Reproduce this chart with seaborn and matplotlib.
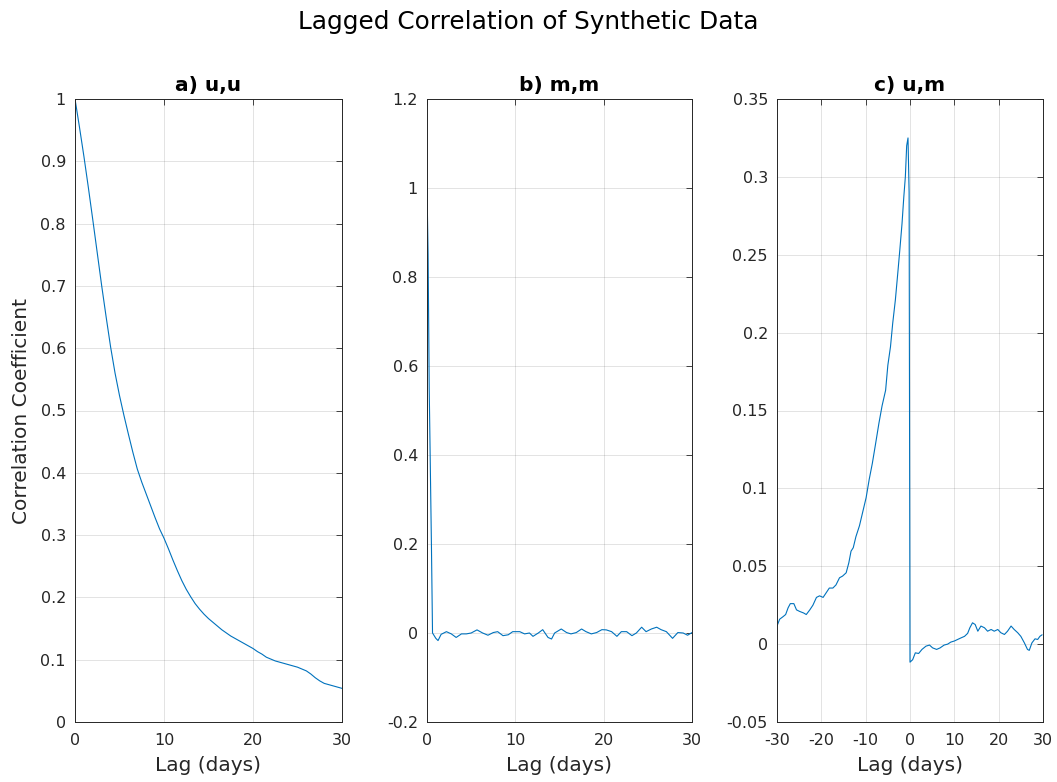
import numpy as np
import pandas as pd
import matplotlib
matplotlib.use("Agg")
import matplotlib.pyplot as plt
import seaborn as sns
from matplotlib.ticker import FixedLocator, FixedFormatter

# ---------------- data ----------------
lag_a = [0, 0.5, 1, 1.5, 2, 2.5, 3, 3.5, 4, 4.5, 5, 5.5, 6, 6.5, 7, 7.5, 8, 8.5, 9, 9.5,
         10, 10.5, 11, 11.5, 12, 12.5, 13, 13.5, 14, 14.5, 15, 15.5, 16, 16.5, 17, 17.5,
         18, 18.5, 19, 19.5, 20, 20.5, 21, 21.5, 22, 22.5, 23, 23.5, 24, 24.5, 25, 25.5,
         26, 26.5, 27, 27.5, 28, 28.5, 29, 29.5, 30]
corr_uu = [1.0, 0.955, 0.908, 0.858, 0.806, 0.753, 0.70, 0.65, 0.602, 0.56, 0.524, 0.492,
           0.462, 0.433, 0.406, 0.385, 0.366, 0.347, 0.328, 0.31, 0.295, 0.278, 0.26,
           0.243, 0.227, 0.213, 0.201, 0.19, 0.181, 0.173, 0.166, 0.16, 0.154, 0.148, 0.143,
           0.138, 0.134, 0.13, 0.126, 0.122, 0.118, 0.113, 0.109, 0.104, 0.101, 0.098,
           0.096, 0.094, 0.092, 0.09, 0.088, 0.085, 0.082, 0.077, 0.071, 0.066, 0.062,
           0.060, 0.058, 0.056, 0.054]

lag_b = [0, 0.125, 0.25, 0.5, 0.625, 0.75, 1.0, 1.25, 1.6, 2.2, 2.75, 3.3, 3.9, 4.45, 5.0,
         5.66, 6.3, 6.9, 7.5, 8.0, 8.6, 9.2, 9.7, 10.5, 11.05, 11.6, 12.0, 12.6, 13.1, 13.7,
         14.1, 14.45, 15.2, 15.8, 16.3, 16.9, 17.5, 18.0, 18.6, 19.2, 19.8, 20.3, 20.9,
         21.5, 22.0, 22.6, 23.2, 23.7, 24.3, 24.8, 25.4, 26.0, 26.5, 27.1, 27.8, 28.4,
         29.0, 29.5, 30.0]
corr_mm = [1.0, 0.85, 0.55, 0.2, 0.0, -0.004, -0.012, -0.017, -0.003, 0.003, -0.002, -0.010,
           -0.002, -0.002, 0.0, 0.007, 0.0, -0.005, 0.001, 0.003, -0.006, -0.004, 0.003,
           0.003, -0.002, 0.0, -0.0075, 0.0, 0.0075, -0.010, -0.0135, 0.0, 0.009, 0.001,
           -0.002, 0.001, 0.009, 0.003, -0.002, 0.001, 0.0075, 0.007, 0.003, -0.0075,
           0.003, 0.003, -0.006, 0.0, 0.013, 0.003, 0.009, 0.013, 0.0075, 0.003, -0.012,
           0.001, 0.0, -0.005, 0.001]

lag_c = [-30, -29.4, -28.65, -28.05, -27.5, -27.0, -26.2, -25.6, -24.9, -24.0, -23.4,
         -22.6, -21.9, -21.1, -20.4, -19.6, -18.9, -18.2, -17.4, -16.7, -15.9, -15.2,
         -14.4, -13.8, -13.3, -12.8, -12.2, -11.4, -10.7, -9.9, -9.2, -8.5, -7.8, -7.0,
         -6.3, -5.5, -5.0, -4.4, -3.9, -3.3, -2.7, -2.3, -1.8, -1.4, -1.05, -0.75, -0.45,
         -0.2, 0.0, 0.6, 1.2, 1.95, 2.7, 3.6, 4.4, 5.1, 6.0, 6.8, 7.7, 8.5, 9.2, 10.0,
         10.75, 11.5, 12.3, 13.0, 13.5, 14.1, 14.7, 15.3, 16.0, 16.8, 17.5, 18.3, 19.0,
         19.8, 20.5, 21.3, 22.0, 22.8, 23.5, 24.3, 25.0, 25.8, 26.5, 26.9, 27.5, 28.2,
         28.8, 29.3, 29.8]
corr_um = [0.0116, 0.016, 0.0176, 0.019, 0.0233, 0.026, 0.026, 0.022, 0.021, 0.020, 0.019,
           0.022, 0.025, 0.030, 0.031, 0.030, 0.033, 0.036, 0.036, 0.038, 0.0426, 0.0437,
           0.0458, 0.0522, 0.0597, 0.0619, 0.069, 0.076, 0.0844, 0.094, 0.1058, 0.116,
           0.128, 0.142, 0.153, 0.163, 0.179, 0.191, 0.206, 0.221, 0.240, 0.253, 0.270,
           0.287, 0.300, 0.320, 0.325, 0.29, -0.0116, -0.010, -0.0056, -0.006, -0.0034,
           -0.0013, -0.0006, -0.0024, -0.0034, -0.0024, -0.0006, 0.0, 0.0013, 0.002, 0.003,
           0.004, 0.005, 0.0069, 0.0105, 0.0137, 0.0126, 0.0083, 0.0116, 0.0105, 0.0083,
           0.0094, 0.0083, 0.0094, 0.0073, 0.0062, 0.0083, 0.0116, 0.0094, 0.0073, 0.005,
           0.0008, -0.0034, -0.004, 0.0008, 0.0034, 0.003, 0.005, 0.006]

titles = ["a) u,u", "b) m,m", "c) u,m"]
suptitle = "Lagged Correlation of Synthetic Data"
xlabel = "Lag (days)"
ylabel = "Correlation Coefficient"

xticks_ab = [0, 10, 20, 30]
xticks_c = [-30, -20, -10, 0, 10, 20, 30]
yticks_a = [0, 0.1, 0.2, 0.3, 0.4, 0.5, 0.6, 0.7, 0.8, 0.9, 1]
ylabels_a = ["0", "0.1", "0.2", "0.3", "0.4", "0.5", "0.6", "0.7", "0.8", "0.9", "1"]
yticks_b = [-0.2, 0, 0.2, 0.4, 0.6, 0.8, 1.0, 1.2]
ylabels_b = ["-0.2", "0", "0.2", "0.4", "0.6", "0.8", "1", "1.2"]
yticks_c = [-0.05, 0, 0.05, 0.1, 0.15, 0.2, 0.25, 0.3, 0.35]
ylabels_c = ["-0.05", "0", "0.05", "0.1", "0.15", "0.2", "0.25", "0.3", "0.35"]

# ---------------- style ----------------
sns.set_theme(style="white")
plt.rcParams['font.family'] = ['DejaVu Sans']
TXT = '#262626'
LINE = '#0072BD'

fig = plt.figure(figsize=(10.57, 7.82), dpi=100)
W, H = 1057, 782
def rect(l, r, t, b):
    return [l / W, (H - b) / H, (r - l) / W, (b - t) / H]

axes = [fig.add_axes(rect(75, 342, 99, 722)),
        fig.add_axes(rect(427, 692, 99, 722)),
        fig.add_axes(rect(777, 1043, 99, 722))]

panels = [
    (lag_a, corr_uu, (0, 30), (0, 1), xticks_ab, yticks_a, ylabels_a),
    (lag_b, corr_mm, (0, 30), (-0.2, 1.2), xticks_ab, yticks_b, ylabels_b),
    (lag_c, corr_um, (-30, 30), (-0.05, 0.35), xticks_c, yticks_c, ylabels_c),
]

for i, (ax, (x, y, xl, yl, xt, yt, ytl)) in enumerate(zip(axes, panels)):
    df = pd.DataFrame({"lag": x, "corr": y})
    sns.lineplot(data=df, x="lag", y="corr", ax=ax, color=LINE, linewidth=0.8,
                 estimator=None, sort=False)
    ax.set_xlim(*xl)
    ax.set_ylim(*yl)
    ax.xaxis.set_major_locator(FixedLocator(xt))
    ax.xaxis.set_major_formatter(FixedFormatter([str(v) for v in xt]))
    ax.yaxis.set_major_locator(FixedLocator(yt))
    ax.yaxis.set_major_formatter(FixedFormatter(ytl))
    ax.grid(True, color=TXT, alpha=0.15, linewidth=0.6)
    ax.set_axisbelow(True)
    for s in ax.spines.values():
        s.set_color(TXT)
        s.set_linewidth(0.7)
        s.set_visible(True)
    ax.tick_params(direction='in', length=4, width=0.6, top=True, right=True,
                   labelsize=11.5, colors=TXT)
    ax.tick_params(axis='x', pad=8)
    ax.tick_params(axis='y', pad=6.5)
    ax.set_title(titles[i], fontsize=14.5, fontweight='bold', color='black', pad=6)
    ax.set_xlabel(xlabel, fontsize=14.5, color=TXT, labelpad=6)
    ax.set_ylabel(ylabel if i == 0 else "", fontsize=14.5, color=TXT, labelpad=7)

fig.suptitle(suptitle, fontsize=17.8, color='black', y=1 - 22 / H, va='center')
fig.savefig("out.png", dpi=100, facecolor='white')
